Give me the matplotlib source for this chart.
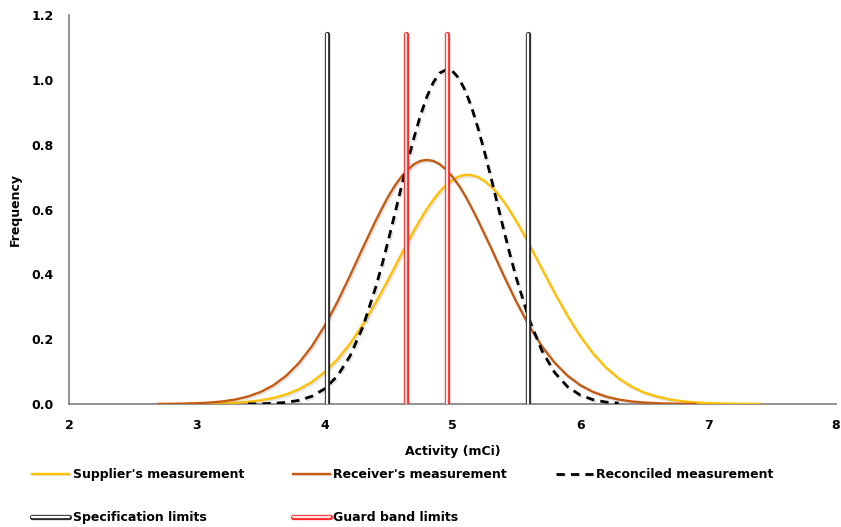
import matplotlib.pyplot as plt
import matplotlib.patheffects as pe

# values (x in mCi, y = frequency)
supplier_x = [2.9, 3.0, 3.1, 3.2, 3.3, 3.4, 3.5, 3.6, 3.7, 3.8, 3.9, 4.0, 4.1, 4.2, 4.3, 4.4,
              4.5, 4.6, 4.7, 4.75, 4.8, 4.85, 4.9, 4.95, 5.0, 5.05, 5.1, 5.15, 5.2, 5.25,
              5.3, 5.35, 5.4, 5.45, 5.5, 5.55, 5.6, 5.7, 5.8, 5.9, 6.0,
              6.1, 6.2, 6.3, 6.4, 6.5, 6.6, 6.7, 6.8, 6.9, 7.0, 7.1, 7.2, 7.3, 7.4]
supplier_y = [0.0003, 0.0006, 0.0012, 0.0021, 0.0039, 0.0068, 0.0114, 0.0187, 0.0297, 0.0457,
              0.0681, 0.0984, 0.138, 0.187, 0.246, 0.313, 0.386, 0.462, 0.536, 0.570, 0.602,
              0.630, 0.655, 0.676, 0.691, 0.702, 0.707, 0.706, 0.700, 0.688, 0.672, 0.651,
              0.625, 0.596, 0.563, 0.529, 0.492, 0.417, 0.342, 0.272, 0.209,
              0.156, 0.113, 0.079, 0.054, 0.035, 0.023, 0.014, 0.0084, 0.0049, 0.0027,
              0.0015, 0.0008, 0.0004, 0.0002]

receiver_x = [2.7, 2.8, 2.9, 3.0, 3.1, 3.2, 3.3, 3.4, 3.5, 3.6, 3.7, 3.8, 3.9, 4.0, 4.1, 4.2,
              4.3, 4.4, 4.45, 4.5, 4.55, 4.6, 4.65, 4.7, 4.75, 4.8, 4.85, 4.9, 4.95, 5.0,
              5.05, 5.1, 5.15, 5.2, 5.3, 5.4, 5.5, 5.6, 5.7, 5.8,
              5.9, 6.0, 6.1, 6.2, 6.3, 6.4, 6.5, 6.6, 6.7, 6.8, 6.9]
receiver_y = [0.0003, 0.0006, 0.0012, 0.0024, 0.0044, 0.0079, 0.0137, 0.023, 0.0372, 0.058,
              0.0874, 0.127, 0.178, 0.241, 0.315, 0.397, 0.483, 0.566, 0.605, 0.642, 0.674,
              0.701, 0.723, 0.740, 0.750, 0.753, 0.750, 0.740, 0.723, 0.701,
              0.674, 0.642, 0.605, 0.566, 0.483, 0.397, 0.315, 0.241, 0.178, 0.127,
              0.0874, 0.058, 0.0372, 0.023, 0.0137, 0.0079, 0.0044, 0.0024, 0.0012, 0.0006,
              0.0003]

reconciled_x = [3.4, 3.5, 3.6, 3.7, 3.8, 3.9, 4.0, 4.1, 4.2, 4.3, 4.4, 4.45, 4.5, 4.55, 4.6,
                4.65, 4.7, 4.75, 4.8, 4.85, 4.9, 4.96, 5.0, 5.05, 5.1, 5.15, 5.2, 5.25, 5.3,
                5.35, 5.4, 5.45, 5.5, 5.6, 5.7, 5.8, 5.9, 6.0, 6.1, 6.2, 6.3]
reconciled_y = [0.0003, 0.0008, 0.0021, 0.005, 0.0113, 0.0238, 0.0468, 0.0864, 0.149, 0.239,
                0.361, 0.431, 0.508, 0.588, 0.669, 0.748, 0.823, 0.891, 0.948, 0.992, 1.021,
                1.033, 1.027, 1.005, 0.967, 0.915, 0.851, 0.779, 0.701, 0.620, 0.539, 0.461,
                0.388, 0.261, 0.164, 0.0968, 0.0533, 0.0274, 0.0132, 0.0059, 0.0025]

spec_limits = [4.02, 5.59]
guard_limits = [4.64, 4.96]
limit_top = 1.14

x_ticks = [2, 3, 4, 5, 6, 7, 8]
y_ticks = [0.0, 0.2, 0.4, 0.6, 0.8, 1.0, 1.2]


def main():
    plt.rcParams['font.family'] = 'DejaVu Sans'
    plt.rcParams['font.weight'] = 'bold'

    fig = plt.figure(figsize=(8.41, 5.27), dpi=100)
    ax = fig.add_axes([0.082, 0.2334, 0.912, 0.7381])

    shadow = [pe.SimpleLineShadow(offset=(1.0, -1.2), shadow_color='gray', alpha=0.22),
              pe.Normal()]

    sup, = ax.plot(supplier_x, supplier_y, c='#FFC000', lw=1.7,
                   label="Supplier's measurement", path_effects=shadow, zorder=3)
    rec, = ax.plot(receiver_x, receiver_y, c='#C55A11', lw=1.7,
                   label="Receiver's measurement", path_effects=shadow, zorder=3)
    con, = ax.plot(reconciled_x, reconciled_y, c='black', lw=2.0, ls=(0, (3, 2.2)),
                   label="Reconciled measurement", path_effects=shadow, zorder=4)

    spec_fx = [pe.Stroke(linewidth=3.8, foreground='#2b2b2b'), pe.Normal()]
    guard_fx = [pe.Stroke(linewidth=3.8, foreground='#FF2A2A'), pe.Normal()]
    spec_lines = []
    guard_lines = []
    for i, xv in enumerate(spec_limits):
        ln, = ax.plot([xv, xv], [0, limit_top], c='white', lw=1.6,
                      solid_capstyle='round', path_effects=spec_fx, zorder=5,
                      label='Specification limits')
        spec_lines.append(ln)
    for i, xv in enumerate(guard_limits):
        ln, = ax.plot([xv, xv], [0, limit_top], c='#FFE4E4', lw=1.6,
                      solid_capstyle='round', path_effects=guard_fx, zorder=5,
                      label='Guard band limits')
        guard_lines.append(ln)

    ax.set_xlim(2, 8)
    ax.set_ylim(0, 1.2)
    ax.set_xticks(x_ticks)
    ax.set_yticks(y_ticks)
    ax.set_yticklabels(['%.1f' % v for v in y_ticks])
    ax.tick_params(length=0, labelsize=9, pad=11)
    for s in ['top', 'right']:
        ax.spines[s].set_visible(False)
    for s in ['left', 'bottom']:
        ax.spines[s].set_color('#7f7f7f')
        ax.spines[s].set_linewidth(1.2)

    ax.set_xlabel('Activity (mCi)', fontsize=9, fontweight='bold', labelpad=9)
    ax.set_ylabel('Frequency', fontsize=9, fontweight='bold', labelpad=7)

    handles = [sup, spec_lines[0], rec, guard_lines[0], con]
    labels = [h.get_label() for h in handles]
    fig.legend(handles, labels, ncol=3, loc='upper left', bbox_to_anchor=(0.038, 0.112),
               frameon=False, fontsize=9, handlelength=3.0, handletextpad=0.25,
               columnspacing=3.9, labelspacing=2.4, borderaxespad=0, borderpad=0)

    plt.savefig('out.png', dpi=100)
    plt.close()


if (__name__ == "__main__"):
    main()
